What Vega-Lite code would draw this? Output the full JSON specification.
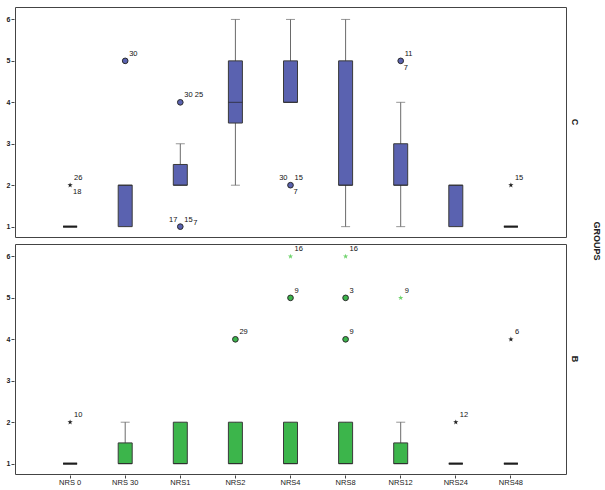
{
  "$schema": "https://vega.github.io/schema/vega-lite/v6.json",
  "padding": {"left": 6, "top": 6, "right": 5, "bottom": 4},
  "background": "white",
  "data": {"values": [
    {"t": "box", "group": "C", "nrs": "NRS 0", "lw": 1, "q1": 1, "med": 1, "q3": 1, "uw": 1},
    {"t": "box", "group": "C", "nrs": "NRS 30", "lw": 1, "q1": 1, "med": 2, "q3": 2, "uw": 2},
    {"t": "box", "group": "C", "nrs": "NRS1", "lw": 2, "q1": 2, "med": 2, "q3": 2.5, "uw": 3},
    {"t": "box", "group": "C", "nrs": "NRS2", "lw": 2, "q1": 3.5, "med": 4, "q3": 5, "uw": 6},
    {"t": "box", "group": "C", "nrs": "NRS4", "lw": 4, "q1": 4, "med": 4, "q3": 5, "uw": 6},
    {"t": "box", "group": "C", "nrs": "NRS8", "lw": 1, "q1": 2, "med": 2, "q3": 5, "uw": 6},
    {"t": "box", "group": "C", "nrs": "NRS12", "lw": 1, "q1": 2, "med": 2, "q3": 3, "uw": 4},
    {"t": "box", "group": "C", "nrs": "NRS24", "lw": 1, "q1": 1, "med": 2, "q3": 2, "uw": 2},
    {"t": "box", "group": "C", "nrs": "NRS48", "lw": 1, "q1": 1, "med": 1, "q3": 1, "uw": 1},
    {"t": "box", "group": "B", "nrs": "NRS 0", "lw": 1, "q1": 1, "med": 1, "q3": 1, "uw": 1},
    {"t": "box", "group": "B", "nrs": "NRS 30", "lw": 1, "q1": 1, "med": 1, "q3": 1.5, "uw": 2},
    {"t": "box", "group": "B", "nrs": "NRS1", "lw": 1, "q1": 1, "med": 1, "q3": 2, "uw": 2},
    {"t": "box", "group": "B", "nrs": "NRS2", "lw": 1, "q1": 1, "med": 1, "q3": 2, "uw": 2},
    {"t": "box", "group": "B", "nrs": "NRS4", "lw": 1, "q1": 1, "med": 1, "q3": 2, "uw": 2},
    {"t": "box", "group": "B", "nrs": "NRS8", "lw": 1, "q1": 1, "med": 1, "q3": 2, "uw": 2},
    {"t": "box", "group": "B", "nrs": "NRS12", "lw": 1, "q1": 1, "med": 1, "q3": 1.5, "uw": 2},
    {"t": "box", "group": "B", "nrs": "NRS24", "lw": 1, "q1": 1, "med": 1, "q3": 1, "uw": 1},
    {"t": "box", "group": "B", "nrs": "NRS48", "lw": 1, "q1": 1, "med": 1, "q3": 1, "uw": 1},
    {"t": "pt", "group": "C", "nrs": "NRS 0", "value": 2, "kind": "extreme", "ur": "26", "lr": "18"},
    {"t": "pt", "group": "C", "nrs": "NRS 30", "value": 5, "kind": "outlier", "ur": "30"},
    {"t": "pt", "group": "C", "nrs": "NRS1", "value": 4, "kind": "outlier", "ur": "30 25"},
    {"t": "pt", "group": "C", "nrs": "NRS1", "value": 1, "kind": "outlier", "ul": "17", "ur": "15", "r": "7"},
    {"t": "pt", "group": "C", "nrs": "NRS4", "value": 2, "kind": "outlier", "ul": "30", "ur": "15", "lr": "7"},
    {"t": "pt", "group": "C", "nrs": "NRS12", "value": 5, "kind": "outlier", "ur": "11", "lr": "7"},
    {"t": "pt", "group": "C", "nrs": "NRS48", "value": 2, "kind": "extreme", "ur": "15"},
    {"t": "pt", "group": "B", "nrs": "NRS 0", "value": 2, "kind": "extreme", "ur": "10"},
    {"t": "pt", "group": "B", "nrs": "NRS2", "value": 4, "kind": "outlier", "ur": "29"},
    {"t": "pt", "group": "B", "nrs": "NRS4", "value": 5, "kind": "outlier", "ur": "9"},
    {"t": "pt", "group": "B", "nrs": "NRS4", "value": 6, "kind": "extreme_g", "ur": "16"},
    {"t": "pt", "group": "B", "nrs": "NRS8", "value": 5, "kind": "outlier", "ur": "3"},
    {"t": "pt", "group": "B", "nrs": "NRS8", "value": 4, "kind": "outlier", "ur": "9"},
    {"t": "pt", "group": "B", "nrs": "NRS8", "value": 6, "kind": "extreme_g", "ur": "16"},
    {"t": "pt", "group": "B", "nrs": "NRS12", "value": 5, "kind": "extreme_g", "ur": "9"},
    {"t": "pt", "group": "B", "nrs": "NRS24", "value": 2, "kind": "extreme", "ur": "12"},
    {"t": "pt", "group": "B", "nrs": "NRS48", "value": 4, "kind": "extreme", "ur": "6"}
  ]},
  "facet": {
    "row": {
      "field": "group", "type": "nominal", "sort": ["C", "B"],
      "header": {
        "labelOrient": "right", "labelAngle": 90, "labelFontSize": 9, "labelFontWeight": "bold",
        "labelColor": "#222", "labelPadding": 3,
        "title": "GROUPS", "titleOrient": "right", "titleAngle": 90, "titleFontSize": 9,
        "titleFontWeight": "bold", "titleColor": "#222", "titlePadding": 3
      }
    }
  },
  "spacing": {"row": 5},
  "spec": {
    "width": 551,
    "height": 230,
    "encoding": {
      "x": {
        "field": "nrs", "type": "nominal",
        "sort": ["NRS 0", "NRS 30", "NRS1", "NRS2", "NRS4", "NRS8", "NRS12", "NRS24", "NRS48"],
        "scale": {"paddingInner": 0, "paddingOuter": 0.5},
        "axis": {"title": null, "labelAngle": 0, "labelFontSize": 7.5, "labelColor": "#222", "tickSize": 3, "tickColor": "#444", "domain": false, "labelPadding": 0}
      }
    },
    "layer": [
      {
        "transform": [{"filter": "datum.t == 'box'"}],
        "mark": {"type": "rule", "color": "#6a6a6a", "strokeWidth": 1},
        "encoding": {
          "y": {"field": "lw", "type": "quantitative", "scale": {"domain": [0.75, 6.3], "nice": false, "zero": false},
            "axis": {"title": null, "values": [1, 2, 3, 4, 5, 6], "labelFontSize": 7, "labelFontWeight": "bold", "labelColor": "#222", "tickSize": 3, "tickColor": "#444", "domain": false, "grid": false, "labelPadding": 1}},
          "y2": {"field": "uw"}
        }
      },
      {
        "transform": [{"filter": "datum.t == 'box' && datum.uw > datum.q3"}],
        "mark": {"type": "tick", "color": "#6a6a6a", "size": 9, "thickness": 1},
        "encoding": {"y": {"field": "uw", "type": "quantitative"}}
      },
      {
        "transform": [{"filter": "datum.t == 'box' && datum.lw < datum.q1"}],
        "mark": {"type": "tick", "color": "#6a6a6a", "size": 9, "thickness": 1},
        "encoding": {"y": {"field": "lw", "type": "quantitative"}}
      },
      {
        "transform": [{"filter": "datum.t == 'box'"}],
        "mark": {"type": "bar", "width": 14, "stroke": "#3a3a3a", "strokeWidth": 1, "opacity": 1},
        "encoding": {
          "y": {"field": "q1", "type": "quantitative"},
          "y2": {"field": "q3"},
          "color": {"field": "group", "type": "nominal", "scale": {"domain": ["C", "B"], "range": ["#5a62b0", "#3cb54b"]}, "legend": null}
        }
      },
      {
        "transform": [{"filter": "datum.t == 'box' && datum.q1 < datum.q3"}],
        "mark": {"type": "tick", "color": "#222", "size": 14, "thickness": 1},
        "encoding": {"y": {"field": "med", "type": "quantitative"}}
      },
      {
        "transform": [{"filter": "datum.t == 'box' && datum.q1 == datum.q3"}],
        "mark": {"type": "tick", "color": "#111", "size": 14, "thickness": 2.5},
        "encoding": {"y": {"field": "med", "type": "quantitative"}}
      },
      {
        "transform": [{"filter": "datum.kind == 'outlier'"}],
        "mark": {"type": "point", "shape": "circle", "filled": true, "size": 32, "stroke": "#2a2a2a", "strokeWidth": 1, "opacity": 1},
        "encoding": {
          "y": {"field": "value", "type": "quantitative"},
          "color": {"field": "group", "type": "nominal", "legend": null}
        }
      },
      {
        "transform": [{"filter": "datum.kind == 'extreme'"}],
        "mark": {"type": "point", "shape": "M0,-1L0.235,-0.324L0.951,-0.309L0.380,0.124L0.588,0.809L0,0.4L-0.588,0.809L-0.380,0.124L-0.951,-0.309L-0.235,-0.324Z", "filled": true, "size": 30, "color": "#222", "opacity": 1},
        "encoding": {"y": {"field": "value", "type": "quantitative"}}
      },
      {
        "transform": [{"filter": "datum.kind == 'extreme_g'"}],
        "mark": {"type": "point", "shape": "M0,-1L0.235,-0.324L0.951,-0.309L0.380,0.124L0.588,0.809L0,0.4L-0.588,0.809L-0.380,0.124L-0.951,-0.309L-0.235,-0.324Z", "filled": true, "size": 30, "color": "#72d46f", "opacity": 1},
        "encoding": {"y": {"field": "value", "type": "quantitative"}}
      },
      {
        "transform": [{"filter": "isValid(datum.ur)"}],
        "mark": {"type": "text", "align": "left", "baseline": "middle", "dx": 4, "dy": -7, "fontSize": 7.5, "fill": "#111"},
        "encoding": {"y": {"field": "value", "type": "quantitative"}, "text": {"field": "ur"}}
      },
      {
        "transform": [{"filter": "isValid(datum.lr)"}],
        "mark": {"type": "text", "align": "left", "baseline": "middle", "dx": 3, "dy": 7, "fontSize": 7.5, "fill": "#111"},
        "encoding": {"y": {"field": "value", "type": "quantitative"}, "text": {"field": "lr"}}
      },
      {
        "transform": [{"filter": "isValid(datum.ul)"}],
        "mark": {"type": "text", "align": "right", "baseline": "middle", "dx": -3, "dy": -7, "fontSize": 7.5, "fill": "#111"},
        "encoding": {"y": {"field": "value", "type": "quantitative"}, "text": {"field": "ul"}}
      },
      {
        "transform": [{"filter": "isValid(datum.r)"}],
        "mark": {"type": "text", "align": "left", "baseline": "middle", "dx": 13, "dy": -4, "fontSize": 7.5, "fill": "#111"},
        "encoding": {"y": {"field": "value", "type": "quantitative"}, "text": {"field": "r"}}
      }
    ]
  },
  "config": {
    "view": {"stroke": "#444", "strokeWidth": 1},
    "font": "Liberation Sans"
  }
}
